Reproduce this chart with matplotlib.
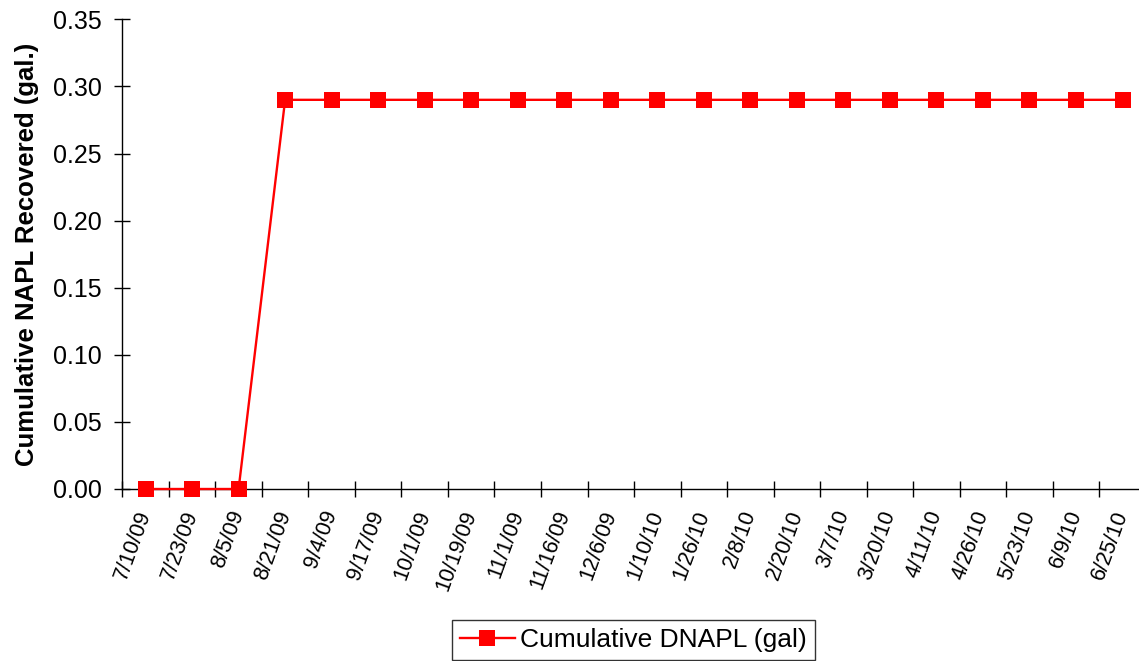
import matplotlib
matplotlib.use("Agg")
import matplotlib.pyplot as plt
import numpy as np

plt.rcParams['font.family'] = ['Liberation Sans', 'DejaVu Sans']

dates = ["7/10/09", "7/23/09", "8/5/09", "8/21/09", "9/4/09", "9/17/09", "10/1/09",
         "10/19/09", "11/1/09", "11/16/09", "12/6/09", "1/10/10", "1/26/10", "2/8/10",
         "2/20/10", "3/7/10", "3/20/10", "4/11/10", "4/26/10", "5/23/10", "6/9/10", "6/25/10"]
dnapl = [0.0, 0.0, 0.0, 0.29, 0.29, 0.29, 0.29, 0.29, 0.29, 0.29, 0.29,
         0.29, 0.29, 0.29, 0.29, 0.29, 0.29, 0.29, 0.29, 0.29, 0.29, 0.29]
yticks = [0.00, 0.05, 0.10, 0.15, 0.20, 0.25, 0.30, 0.35]

W, H = 1139, 661
fig = plt.figure(figsize=(W / 100, H / 100), dpi=100)
left, right = 122.3, 1145.8
top, bottom = 19.3, 489.0
ax = fig.add_axes([left / W, 1 - bottom / H, (right - left) / W, (bottom - top) / H])

x = np.arange(len(dates))
ax.plot(x, dnapl, color='#ff0000', lw=1.7, marker='s', markersize=11,
        markeredgewidth=0, label='Cumulative DNAPL (gal)', clip_on=False, zorder=3)

ax.set_xlim(-0.5, len(dates) - 0.5)
ax.set_ylim(0, 0.35)
ax.set_yticks(yticks)
ax.set_yticklabels([f"{v:.2f}" for v in yticks], fontsize=18)

ax.set_xticks(np.arange(len(dates) + 1) - 0.5)
ax.set_xticklabels([])
ax.set_xticks(x, minor=True)
ax.set_xticklabels(dates, minor=True, rotation=70, ha='right', va='center',
                   rotation_mode='anchor', fontsize=15.5)
ax.tick_params(axis='x', which='major', direction='inout', length=12, width=1)
ax.tick_params(axis='x', which='minor', length=0, pad=16)
ax.tick_params(axis='y', direction='inout', length=12, width=1, pad=9)

for s in ['top', 'right']:
    ax.spines[s].set_visible(False)
for s in ['left', 'bottom']:
    ax.spines[s].set_linewidth(1.0)

ax.set_ylabel('Cumulative NAPL Recovered (gal.)', fontsize=18.5, fontweight='bold', labelpad=10)

leg = fig.legend(loc='lower center', bbox_to_anchor=(633.5 / W, 0.0), fontsize=19,
                 frameon=True, fancybox=False, edgecolor='black', handlelength=2.1,
                 borderpad=0.3, handletextpad=0.2, borderaxespad=0.05, markerscale=1.0)
leg.get_frame().set_linewidth(1.0)

fig.savefig('out.png', dpi=100)
